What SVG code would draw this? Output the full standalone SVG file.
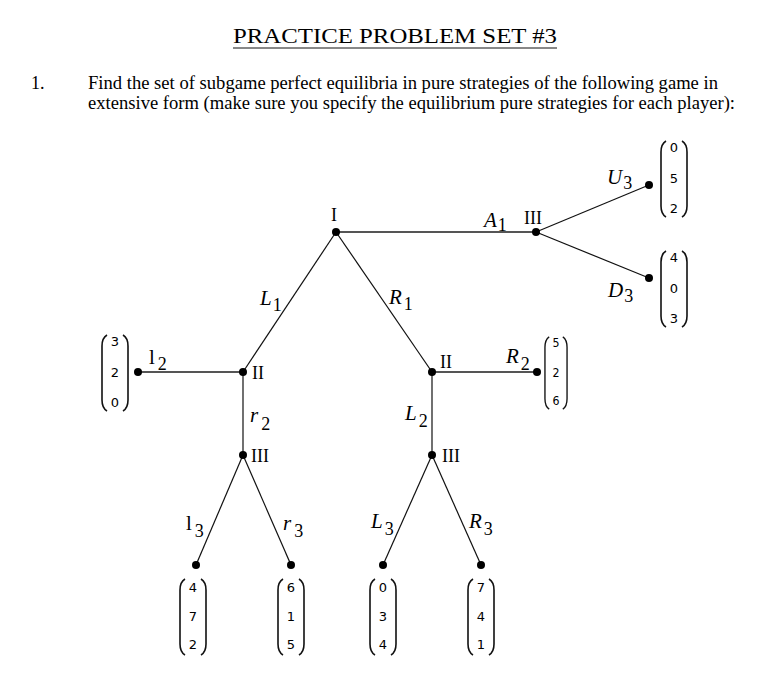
<svg xmlns="http://www.w3.org/2000/svg" xmlns:xlink="http://www.w3.org/1999/xlink" width="759" height="679" viewBox="0 0 759 679">
<style>
.txt{font-family:"Liberation Serif","Times New Roman",serif;fill:#000}
.lab{font-family:"Liberation Serif","Times New Roman",serif;fill:#000;font-size:21px}
.it{font-style:italic}
.sub{font-size:18px;font-style:normal}
.node{font-family:"Liberation Serif","Times New Roman",serif;fill:#000;font-size:18px}
.num{font-family:"DejaVu Sans","Liberation Sans",sans-serif;font-size:13px;fill:#000;text-anchor:middle}
.e{stroke:#111;stroke-width:1.2;fill:none}
.h{stroke:#555;stroke-width:2;fill:none}
.par{stroke:#111;stroke-width:1.6;fill:none}
.dot{fill:#000}
</style>
<defs>
<g id="parens">
<path class="par" d="M -8,-38 Q -13,-35 -13,-27 L -13,27 Q -13,35 -8,38"/>
<path class="par" d="M 8,-38 Q 13,-35 13,-27 L 13,27 Q 13,35 8,38"/>
</g>
</defs>
<rect width="759" height="679" fill="#fff"/>
<g id="header">
<text class="txt" x="233" y="43" font-size="22" textLength="324" lengthAdjust="spacingAndGlyphs">PRACTICE PROBLEM SET #3</text>
<line x1="233" y1="48" x2="557" y2="48" stroke="#111" stroke-width="1"/>
<text class="txt" x="31" y="89" font-size="18">1.</text>
<text class="txt" x="88" y="89" font-size="18" textLength="630" lengthAdjust="spacingAndGlyphs">Find the set of subgame perfect equilibria in pure strategies of the following game in</text>
<text class="txt" x="88" y="109" font-size="18" textLength="647" lengthAdjust="spacingAndGlyphs">extensive form (make sure you specify the equilibrium pure strategies for each player):</text>
</g>
<g id="connectors">
<line class="h" x1="336" y1="232" x2="536" y2="232"/>
<line class="e" x1="536" y1="232" x2="649" y2="185"/>
<line class="e" x1="536" y1="232" x2="649" y2="278"/>
<line class="e" x1="336" y1="232" x2="243" y2="372"/>
<line class="e" x1="336" y1="232" x2="432" y2="372"/>
<line class="h" x1="243" y1="372" x2="138" y2="372"/>
<line class="e" x1="243" y1="372" x2="243" y2="455"/>
<line class="h" x1="432" y1="372" x2="537" y2="372"/>
<line class="e" x1="432" y1="372" x2="432" y2="455"/>
<line class="e" x1="243" y1="455" x2="196" y2="565"/>
<line class="e" x1="243" y1="455" x2="291" y2="565"/>
<line class="e" x1="432" y1="455" x2="383" y2="565"/>
<line class="e" x1="432" y1="455" x2="481" y2="565"/>
<text class="lab" x="484" y="227"><tspan class="it">A</tspan><tspan class="sub" dx="1" dy="4">1</tspan></text>
<text class="lab" x="607" y="184"><tspan class="it">U</tspan><tspan class="sub" dx="1" dy="5">3</tspan></text>
<text class="lab" x="608" y="297"><tspan class="it">D</tspan><tspan class="sub" dx="1" dy="5">3</tspan></text>
<text class="lab" x="260" y="305"><tspan class="it">L</tspan><tspan class="sub" dx="1" dy="6">1</tspan></text>
<text class="lab" x="389" y="304"><tspan class="it">R</tspan><tspan class="sub" dx="2" dy="6">1</tspan></text>
<text class="lab" x="149" y="364"><tspan>l</tspan><tspan class="sub" dx="3" dy="6">2</tspan></text>
<text class="lab" x="250" y="422"><tspan class="it">r</tspan><tspan class="sub" dx="3" dy="8">2</tspan></text>
<text class="lab" x="506" y="363"><tspan class="it">R</tspan><tspan class="sub" dx="2" dy="7">2</tspan></text>
<text class="lab" x="405" y="420"><tspan class="it">L</tspan><tspan class="sub" dx="2" dy="7">2</tspan></text>
<text class="lab" x="186" y="530"><tspan>l</tspan><tspan class="sub" dx="3" dy="7">3</tspan></text>
<text class="lab" x="283" y="530"><tspan class="it">r</tspan><tspan class="sub" dx="3" dy="7">3</tspan></text>
<text class="lab" x="371" y="528"><tspan class="it">L</tspan><tspan class="sub" dx="2" dy="7">3</tspan></text>
<text class="lab" x="469" y="528"><tspan class="it">R</tspan><tspan class="sub" dx="2" dy="7">3</tspan></text>
</g>
<g id="n-I"><circle class="dot" cx="336" cy="232" r="4"/><text class="node" x="334" y="221" text-anchor="middle">I</text></g>
<g id="n-III-top"><circle class="dot" cx="536" cy="232" r="4"/><text class="node" x="524" y="224">III</text></g>
<g id="n-II-left"><circle class="dot" cx="243" cy="372" r="4"/><text class="node" x="252" y="379">II</text></g>
<g id="n-II-right"><circle class="dot" cx="432" cy="372" r="4"/><text class="node" x="440" y="368">II</text></g>
<g id="n-III-left"><circle class="dot" cx="243" cy="455" r="4"/><text class="node" x="251" y="462">III</text></g>
<g id="n-III-right"><circle class="dot" cx="432" cy="455" r="4"/><text class="node" x="442" y="462">III</text></g>
<g id="leaf-U3"><circle class="dot" cx="649" cy="185" r="4"/>
<g transform="translate(674,179)"><use xlink:href="#parens" href="#parens"/><text class="num" x="0" y="-27">0</text><text class="num" x="0" y="4">5</text><text class="num" x="0" y="34">2</text></g></g>
<g id="leaf-D3"><circle class="dot" cx="649" cy="278" r="4"/>
<g transform="translate(674,289)"><use xlink:href="#parens" href="#parens"/><text class="num" x="0" y="-27">4</text><text class="num" x="0" y="4">0</text><text class="num" x="0" y="34">3</text></g></g>
<g id="leaf-l2"><circle class="dot" cx="138" cy="372" r="4"/>
<g transform="translate(115,373)"><use xlink:href="#parens" href="#parens"/><text class="num" x="0" y="-27">3</text><text class="num" x="0" y="4">2</text><text class="num" x="0" y="34">0</text></g></g>
<g id="leaf-R2"><circle class="dot" cx="537" cy="372" r="4"/>
<g transform="translate(556,373) scale(0.85,0.95)"><use xlink:href="#parens" href="#parens"/><text class="num" x="0" y="-27">5</text><text class="num" x="0" y="4">2</text><text class="num" x="0" y="34">6</text></g></g>
<g id="leaf-l3"><circle class="dot" cx="196" cy="565" r="4"/>
<g transform="translate(193,617)"><use xlink:href="#parens" href="#parens"/><text class="num" x="0" y="-25">4</text><text class="num" x="0" y="4">7</text><text class="num" x="0" y="32">2</text></g></g>
<g id="leaf-r3"><circle class="dot" cx="291" cy="565" r="4"/>
<g transform="translate(291,617)"><use xlink:href="#parens" href="#parens"/><text class="num" x="0" y="-25">6</text><text class="num" x="0" y="4">1</text><text class="num" x="0" y="32">5</text></g></g>
<g id="leaf-L3"><circle class="dot" cx="383" cy="565" r="4"/>
<g transform="translate(383,617)"><use xlink:href="#parens" href="#parens"/><text class="num" x="0" y="-25">0</text><text class="num" x="0" y="4">3</text><text class="num" x="0" y="32">4</text></g></g>
<g id="leaf-R3"><circle class="dot" cx="481" cy="565" r="4"/>
<g transform="translate(481,617)"><use xlink:href="#parens" href="#parens"/><text class="num" x="0" y="-25">7</text><text class="num" x="0" y="4">4</text><text class="num" x="0" y="32">1</text></g></g>
</svg>
